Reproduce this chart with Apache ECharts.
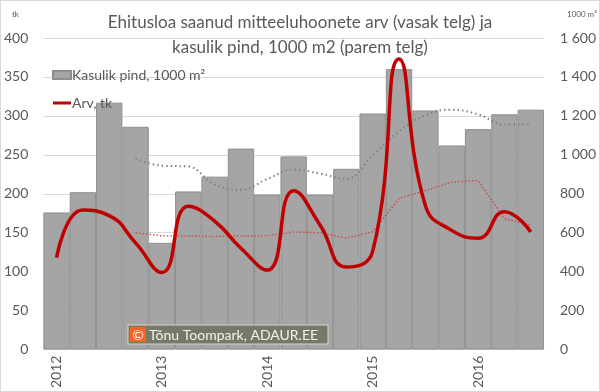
<!DOCTYPE html>
<html>
<head>
<meta charset="utf-8">
<script src="https://cdn.jsdelivr.net/npm/echarts@6/dist/echarts.min.js"></script>
<style>
html,body{margin:0;padding:0;background:#fff;}
#c{width:598px;height:390px;border:1px solid #d9d9d9;}
</style>
</head>
<body>
<div id="c"></div>
<script>
// Quarters 2012 Q1 .. 2016 Q3
const categories = ['2012 Q1','2012 Q2','2012 Q3','2012 Q4','2013 Q1','2013 Q2','2013 Q3','2013 Q4','2014 Q1','2014 Q2','2014 Q3','2014 Q4','2015 Q1','2015 Q2','2015 Q3','2015 Q4','2016 Q1','2016 Q2','2016 Q3'];
// Kasulik pind, 1000 m2 (right axis)
const areaValues = [704,808,1268,1144,548,812,888,1032,796,992,796,928,1212,1440,1228,1048,1132,1208,1232];
// Arv, tk (left axis)
const countValues = [118,179,172,137,99,184,165,130,102,204,160,106,126,373,185,153,143,177,151];
// 4-quarter trend of area (right axis)
const areaTrend = [null,null,null,980,944,940,848,820,876,924,904,876,996,1120,1204,1232,1208,1156,1156];
// 4-quarter trend of count (left axis)
const countTrend = [null,null,null,150,146,146,145,146,146,151,150,143,151,194,204,215,217,168,160];
const leftTicks = [0,50,100,150,200,250,300,350,400];
const rightTicks = [0,200,400,600,800,1000,1200,1400,1600];

const fmtSpace = v => String(v).replace(/\B(?=(\d{3})+(?!\d))/g, ' ');
const FONT = 'Lato';
const TXT = '#595959';

const chart = echarts.init(document.getElementById('c'), null, {renderer:'canvas'});
chart.setOption({
  animation:false,
  backgroundColor:'#fff',
  title:{
    text:'Ehitusloa saanud mitteeluhoonete arv (vasak telg) ja\nkasulik pind, 1000 m2 (parem telg)',
    left:'center', top:4,
    textStyle:{fontFamily:FONT,fontSize:17,fontWeight:'normal',color:TXT,lineHeight:25}
  },
  legend:{
    data:[
      {name:'Kasulik pind, 1000 m²',icon:'rect'},
      {name:'Arv, tk',icon:'path://M0,0H18V3H0Z',itemStyle:{color:'#c00000'}}
    ],
    orient:'vertical', left:46, top:62, itemWidth:18, itemHeight:8, itemGap:14,
    textStyle:{fontFamily:FONT,fontSize:14,color:TXT,padding:[0,0,0,-4]}
  },
  grid:{left:41,right:53,top:37,bottom:41},
  xAxis:{
    type:'category', data:categories, boundaryGap:true,
    axisLine:{lineStyle:{color:'#d9d9d9'}},
    axisTick:{show:false},
    axisLabel:{rotate:90,interval:3,margin:6,fontFamily:FONT,fontSize:14,color:TXT,
      formatter:v=>v.slice(0,4)}
  },
  yAxis:[
    {type:'value',min:leftTicks[0],max:leftTicks[leftTicks.length-1],interval:50,
      axisLine:{show:false},axisTick:{show:false},
      axisLabel:{margin:15,fontFamily:FONT,fontSize:14,color:TXT},
      splitLine:{lineStyle:{color:'#d9d9d9'}}},
    {type:'value',min:rightTicks[0],max:rightTicks[rightTicks.length-1],interval:200,
      axisLine:{show:false},axisTick:{show:false},
      axisLabel:{margin:16,fontFamily:FONT,fontSize:14,color:TXT,formatter:fmtSpace},
      splitLine:{show:false}}
  ],
  series:[
    {name:'Kasulik pind, 1000 m²',type:'bar',yAxisIndex:1,data:areaValues,
      barCategoryGap:'0%',
      itemStyle:{color:'#a5a5a5',borderColor:'#8e8e8e',borderWidth:1},z:2},
    {name:'areaTrend',type:'line',yAxisIndex:1,data:areaTrend,smooth:0.4,symbol:'none',
      lineStyle:{color:'#808080',width:2,type:[1.5,3]},z:3},
    {name:'countTrend',type:'line',yAxisIndex:0,data:countTrend,symbol:'none',
      lineStyle:{color:'#d04040',width:1.3,type:[1.5,2]},z:3},
    {name:'Arv, tk',type:'line',yAxisIndex:0,data:countValues,smooth:0.5,symbol:'none',
      itemStyle:{color:'#c00000'},
      lineStyle:{color:'#c00000',width:3.5},z:4}
  ],
  graphic:[
    {type:'text',left:11,top:9,z:100,style:{text:'tk',fontFamily:FONT,fontSize:8,fill:TXT}},
    {type:'text',left:566,top:9,z:100,style:{text:'1000 m²',fontFamily:FONT,fontSize:8,fill:TXT}},
    {type:'rect',z:100,shape:{x:127,y:324,width:200,height:19},style:{fill:'#77776a',stroke:'#d8d8c8',lineWidth:1}},
    {type:'rect',z:101,shape:{x:129,y:326,width:16,height:15},style:{fill:'#f26522'}},
    {type:'text',z:102,x:137,y:334,style:{text:'©',fontFamily:FONT,fontSize:14,fill:'#ffffff',align:'center',verticalAlign:'middle'}},
    {type:'text',z:102,x:148,y:334,style:{text:'Tõnu Toompark, ADAUR.EE',fontFamily:FONT,fontSize:14,fill:'#f4f4ec',verticalAlign:'middle'}}
  ]
});
</script>
</body>
</html>
